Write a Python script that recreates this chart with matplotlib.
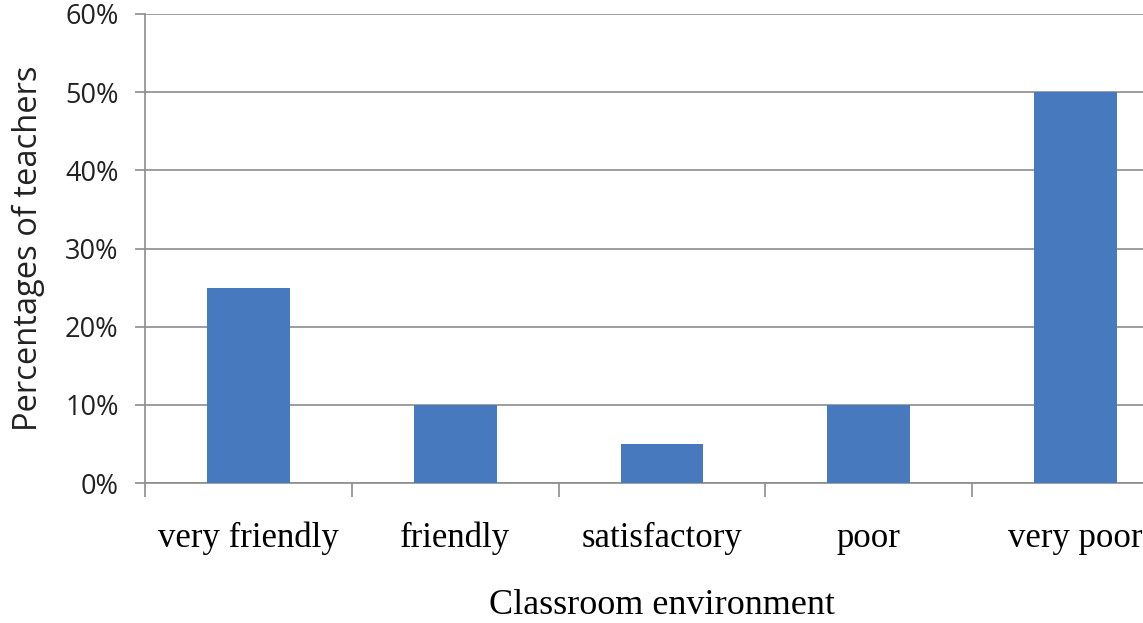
import matplotlib
matplotlib.use("Agg")
import matplotlib.pyplot as plt
import numpy as np
from matplotlib.ticker import FixedLocator, FuncFormatter

categories = ["very friendly", "friendly", "satisfactory", "poor", "very poor"]
values = [25, 10, 5, 10, 50]
yticks = [0, 10, 20, 30, 40, 50, 60]

W, H = 1143, 623
fig = plt.figure(figsize=(W / 100, H / 100), dpi=100)
left, right, top, bottom = 145, 1179, 14, 483
ax = fig.add_axes([left / W, (H - bottom) / H, (right - left) / W, (bottom - top) / H])

x = np.arange(len(categories))
ax.bar(x, values, width=0.4, color="#4679BD", zorder=3)
ax.set_xlim(-0.5, len(categories) - 0.5)
ax.set_ylim(0, 60)

grid_c = "#8C8C8C"
txt_c = "#222222"
ax.set_yticks(yticks)
ax.yaxis.set_major_formatter(FuncFormatter(lambda v, p: f"{int(v)}%"))
ax.yaxis.grid(True, color=grid_c, linewidth=1.2, zorder=0)
for s in ["top", "right"]:
    ax.spines[s].set_visible(False)
for s in ["left", "bottom"]:
    ax.spines[s].set_color(grid_c)
    ax.spines[s].set_linewidth(1.2)

ax.set_xticks(x)
ax.set_xticklabels(categories, family="Liberation Serif", fontsize=25, color="black")
ax.xaxis.set_minor_locator(FixedLocator(np.arange(-0.5, len(categories), 1.0)))
ax.tick_params(axis="x", which="major", length=0, pad=28)
ax.tick_params(axis="x", which="minor", length=10, color=grid_c, width=1.2)
ax.tick_params(axis="y", length=7, color=grid_c, width=1.2, pad=12)
for lab in ax.get_yticklabels():
    lab.set_family("Open Sans")
    lab.set_fontsize(19.5)
    lab.set_color(txt_c)

ax.set_ylabel("Percentages of teachers", family="Open Sans", fontsize=23.5, color=txt_c)
ax.yaxis.label.set_va("center")
ax.yaxis.set_label_coords((28 - left) / (right - left), (H - 248 - (H - bottom)) / (bottom - top))
fig.text(((left + right) / 2) / W, (H - 614) / H, "Classroom environment",
         family="Liberation Serif", fontsize=26, ha="center", va="baseline", color="black")

fig.savefig("out.png", dpi=100)
